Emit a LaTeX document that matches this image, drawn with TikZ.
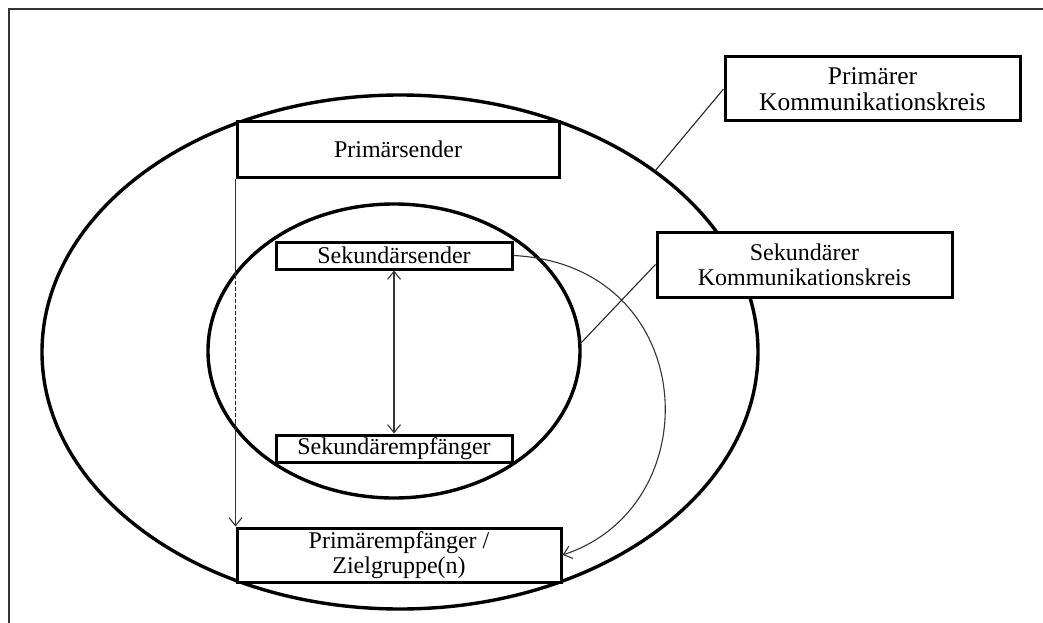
\documentclass[tikz,border=0pt]{standalone}
\usepackage{fontspec}
\setmainfont{Liberation Serif}
\usetikzlibrary{arrows.meta}
\begin{document}
\begin{tikzpicture}[x=1pt, y=-1pt,
  >={Straight Barb[length=8pt,width=13pt]},
  ring/.style={line width=3.4pt},
  box/.style={rectangle, draw, fill=white, line width=3pt, inner sep=0pt,
              font=\fontsize{24}{25}\selectfont, align=center},
  arr/.style={->, line width=1.1pt, black!80},
  link/.style={line width=1.1pt, black!85}
]
  \useasboundingbox (0,0) rectangle (1043,623);
  % Rahmen
  \draw[line width=2pt, black!80] (1043,9) -- (9,9) -- (9,623);

  % Kommunikationskreise
  \draw[ring] (400,352) ellipse [x radius=358, y radius=257];
  \draw[ring] (394,351) ellipse [x radius=186, y radius=147];
  \coordinate (outerpt) at (655,171);
  \coordinate (innerpt) at (580,344);

  % Kaesten
  \node[box, minimum width=322pt, minimum height=55pt] (ps) at (398,149.5) {Primärsender};
  \node[box, minimum width=236pt, minimum height=27pt] (ss) at (394,255.5) {Sekundärsender};
  \node[box, minimum width=236pt, minimum height=27pt] (se) at (394,448.5) {Sekundärempfänger};
  \node[box, minimum width=324pt, minimum height=54pt] (pe) at (399,555) {Primärempfänger /\\Zielgruppe(n)};
  \node[box, minimum width=295pt, minimum height=64pt,
        font=\fontsize{25.5}{26}\selectfont] (pk) at (872.5,89) {Primärer\\Kommunikationskreis};
  \node[box, minimum width=295pt, minimum height=65pt] (sk) at (804.5,264.5) {Sekundärer\\Kommunikationskreis};

  % Primaerweg, im inneren Kreis gestrichelt
  \draw[arr] (ps.south west) -- (pe.north west);
  \begin{scope}
    \clip (394,351) ellipse [x radius=183, y radius=144];
    \draw[white, line width=2.2pt] (ps.south west) -- (pe.north west);
    \draw[link, dash pattern=on 4pt off 2pt] (ps.south west) -- (pe.north west);
  \end{scope}

  % Verbindungen
  \draw[arr, <->] (ss) -- (se);
  \draw[arr] (ss.east) .. controls (700,265) and (712,506) .. (pe.east);
  \draw[link] (pk.west) -- (outerpt);
  \draw[link] (sk.west) -- (innerpt);
\end{tikzpicture}
\end{document}
